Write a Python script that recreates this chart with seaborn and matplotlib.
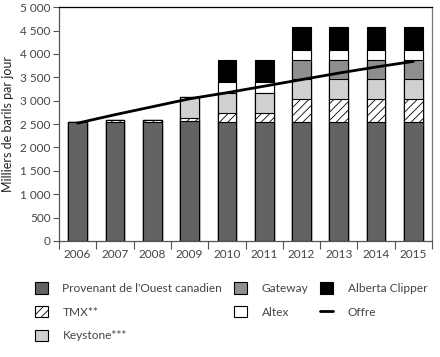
import numpy as np
import matplotlib
matplotlib.use("Agg")
import matplotlib.pyplot as plt
from matplotlib.patches import Patch
from matplotlib.lines import Line2D
from matplotlib.ticker import FuncFormatter, MultipleLocator, FixedLocator
import seaborn as sns

sns.set_theme(style="white")
plt.rcParams['font.family'] = ['Lato', 'DejaVu Sans']
plt.rcParams['hatch.linewidth'] = 0.6

years = ["2006", "2007", "2008", "2009", "2010", "2011", "2012", "2013", "2014", "2015"]
ouest = [2550, 2550, 2550, 2555, 2550, 2550, 2550, 2550, 2550, 2550]
tmx = [0, 30, 30, 85, 180, 180, 480, 480, 480, 480]
keystone = [0, 0, 0, 430, 425, 425, 435, 435, 435, 435]
gateway = [0, 0, 0, 0, 0, 0, 400, 400, 400, 400]
altex = [0, 0, 0, 0, 240, 240, 225, 225, 225, 225]
clipper = [0, 0, 0, 0, 465, 465, 480, 480, 480, 480]
offre = [2520, 2700, 2870, 3040, 3170, 3310, 3450, 3590, 3720, 3840]

labels = ["Provenant de l'Ouest canadien", "TMX**", "Keystone***",
          "Gateway", "Altex", "Alberta Clipper"]
series = [ouest, tmx, keystone, gateway, altex, clipper]
colors = ["#636363", "white", "#d0d0d0", "#8e8e8e", "white", "black"]
hatches = [None, "////", None, None, None, None]

fig = plt.figure(figsize=(4.4, 3.57), dpi=100)
ax = fig.add_axes([0.134, 0.325, 0.848, 0.655])

# stacked bars: draw cumulative totals from top layer down
cum = np.cumsum(np.array(series), axis=0)
for i in range(len(series) - 1, -1, -1):
    sns.barplot(x=years, y=cum[i], color=colors[i], edgecolor="black",
                linewidth=0.8, width=0.5, hatch=hatches[i], ax=ax,
                saturation=1)

sns.lineplot(x=np.arange(len(years)), y=offre, color="black", linewidth=2,
             ax=ax)

ax.set_ylim(0, 5000)
ax.set_xlim(-0.5, len(years) - 0.5)
ax.yaxis.set_major_locator(MultipleLocator(500))
ax.yaxis.set_major_formatter(
    FuncFormatter(lambda v, p: f"{int(v):,}".replace(",", " ")))
ax.set_xlabel("")
ax.set_ylabel("Milliers de barils par jour", fontsize=9, color="#222222")
ax.yaxis.set_label_coords(-0.12, 0.5)
ax.xaxis.set_minor_locator(FixedLocator(np.arange(-0.5, len(years), 1.0)))
ax.tick_params(axis="x", which="major", length=0, pad=6,
               labelsize=8.5, labelcolor="#444444")
ax.tick_params(axis="x", which="minor", length=6, width=0.8,
               color="#555555", direction="out", bottom=True)
ax.tick_params(axis="y", length=4, width=0.8, color="#555555",
               direction="out", left=True, labelsize=8.5,
               labelcolor="#444444", pad=2)
for s in ax.spines.values():
    s.set_visible(True)
    s.set_linewidth(0.9)
ax.spines["top"].set_color("black")
ax.spines["left"].set_color("#555555")
ax.spines["bottom"].set_color("#555555")
ax.spines["right"].set_color("#777777")

handles = []
for lab, c, h in zip(labels, colors, hatches):
    handles.append(Patch(facecolor=c, edgecolor="black", hatch=h,
                         linewidth=0.8, label=lab))
handles.append(Line2D([0], [0], color="black", linewidth=2, label="Offre"))

fig.legend(handles=handles, ncol=3, loc="upper left",
           bbox_to_anchor=(0.055, 0.24), frameon=False, fontsize=8.6,
           handlelength=1.1, handleheight=1.1, handletextpad=1.2,
           columnspacing=1.0, labelspacing=1.0, labelcolor="#444444")

fig.savefig("out.png", dpi=100)
